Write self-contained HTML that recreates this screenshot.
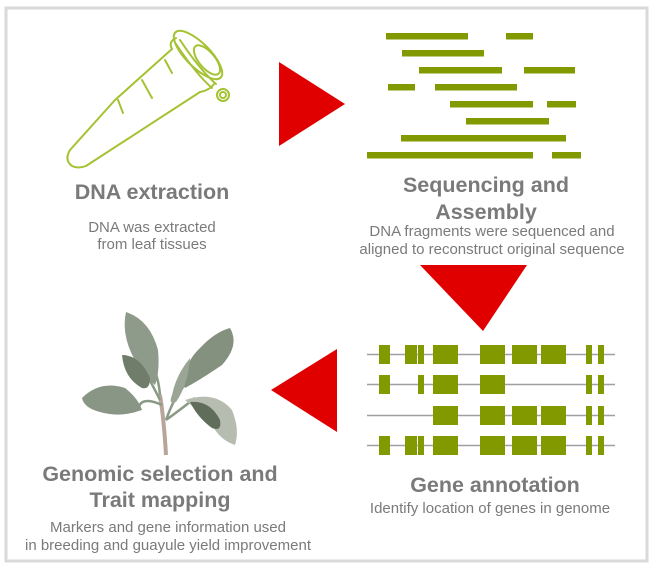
<!DOCTYPE html>
<html><head><meta charset="utf-8"><style>
html,body{margin:0;padding:0;background:#fff;}
svg{display:block;}
text{font-family:"Liberation Sans",Arial,sans-serif;fill:#7a7a7a;text-anchor:middle;}
.t{font-size:21.5px;font-weight:bold;}
.s{font-size:15px;}
</style></head><body>
<svg width="661" height="575" viewBox="0 0 661 575" xmlns="http://www.w3.org/2000/svg">
<rect x="6" y="8" width="641" height="553" fill="#fff" stroke="#d9d9d9" stroke-width="3"/>
<!-- tube -->
<g fill="none" stroke="#a4c232" stroke-width="2" stroke-linecap="round" stroke-linejoin="round">
<path d="M172,49 L115,100 L70,150 Q64,160 72,166 Q78,169 86,166 L200,92"/>
<path d="M172,49 Q168,42 176,38 M200,92 Q210,90 214,84"/>
<ellipse cx="198" cy="55" rx="32" ry="12" transform="rotate(45 198 55)"/>
<ellipse cx="207" cy="60" rx="18" ry="8" transform="rotate(50 207 60)"/>
<path d="M176,44 Q196,74 212,88 M180,40 Q200,70 216,84"/>
<ellipse cx="223" cy="95" rx="6" ry="6"/>
<ellipse cx="223" cy="95" rx="3" ry="3"/>
<path d="M165,60 L172,73 M142,80 L152,98 M118,100 L123,113"/>
</g>
<!-- sequencing bars -->
<g fill="#829a00">
<rect x="386" y="33" width="82" height="6.5"/><rect x="506" y="33" width="27" height="6.5"/>
<rect x="402" y="50" width="82" height="6.5"/>
<rect x="419" y="67" width="83" height="6.5"/><rect x="524" y="67" width="51" height="6.5"/>
<rect x="388" y="84" width="27" height="6.5"/><rect x="435" y="84" width="82" height="6.5"/>
<rect x="450" y="101" width="83" height="6.5"/><rect x="547" y="101" width="29" height="6.5"/>
<rect x="466" y="118" width="83" height="6.5"/>
<rect x="401" y="135" width="165" height="6.5"/>
<rect x="367" y="152" width="166" height="6.5"/><rect x="552" y="152" width="29" height="6.5"/>
</g>
<!-- arrows -->
<polygon points="279,62 345,104 279,146" fill="#e00000"/>
<polygon points="420,265 527,265 483,331" fill="#e00000"/>
<polygon points="271,390 337,349 337,432" fill="#e00000"/>
<!-- gene annotation -->
<g stroke="#a0a0a0" stroke-width="1.5">
<line x1="367" y1="354.5" x2="615" y2="354.5"/><line x1="367" y1="384.5" x2="615" y2="384.5"/>
<line x1="367" y1="415.5" x2="615" y2="415.5"/><line x1="367" y1="445.5" x2="615" y2="445.5"/>
</g>
<g fill="#829a00">
<g id="r1">
<rect x="379" y="345" width="11" height="19"/><rect x="405" y="345" width="12" height="19"/><rect x="418" y="345" width="6" height="19"/>
<rect x="433" y="345" width="25" height="19"/><rect x="480" y="345" width="25" height="19"/><rect x="512" y="345" width="25" height="19"/>
<rect x="541" y="345" width="25" height="19"/><rect x="586" y="345" width="6" height="19"/><rect x="598" y="345" width="6" height="19"/>
</g>
<rect x="379" y="375" width="11" height="19"/><rect x="418" y="375" width="6" height="19"/><rect x="433" y="375" width="25" height="19"/>
<rect x="480" y="375" width="25" height="19"/><rect x="586" y="375" width="6" height="19"/><rect x="598" y="375" width="6" height="19"/>
<rect x="433" y="406" width="25" height="19"/><rect x="480" y="406" width="25" height="19"/><rect x="512" y="406" width="25" height="19"/>
<rect x="541" y="406" width="25" height="19"/><rect x="586" y="406" width="6" height="19"/><rect x="598" y="406" width="6" height="19"/>
<use href="#r1" y="91"/>
</g>
<!-- plant -->
<g>
<path d="M166,455 Q164,420 160,395" stroke="#b9a59a" stroke-width="4" fill="none"/>
<path d="M160,400 Q150,380 140,362 M162,405 Q140,395 138,410 M166,420 Q175,395 185,385 M166,420 Q180,410 195,398 M160,395 Q158,370 145,350" stroke="#8a9a85" stroke-width="2.5" fill="none"/>
<path d="M126,312 Q150,320 158,350 Q160,372 155,385 Q138,370 130,350 Q122,330 126,312Z" fill="#8e9a8a"/>
<path d="M122,355 Q140,355 150,378 Q150,390 142,388 Q124,378 122,355Z" fill="#6f7d6a"/>
<path d="M82,398 Q100,380 125,388 Q138,398 142,410 Q120,418 100,412 Q84,408 82,398Z" fill="#8a9685"/>
<path d="M230,328 Q240,345 222,365 Q200,380 185,388 Q182,365 200,348 Q215,332 230,328Z" fill="#84917f"/>
<path d="M190,358 Q176,375 172,395 Q168,405 176,402 Q188,385 190,358Z" fill="#9aa595"/>
<path d="M185,400 Q215,390 232,410 Q240,430 235,445 Q220,440 212,425 Q200,412 185,400Z" fill="#b7bcb0"/>
<path d="M190,402 Q210,400 220,420 Q222,432 212,428 Q198,418 190,402Z" fill="#5f6d5a"/>
</g>
<!-- text -->
<text class="t" x="152" y="199">DNA extraction</text>
<text class="s" x="152" y="232">DNA was extracted</text>
<text class="s" x="152" y="249">from leaf tissues</text>
<text class="t" x="486" y="192">Sequencing and</text>
<text class="t" x="486" y="219">Assembly</text>
<text class="s" x="492" y="236">DNA fragments were sequenced and</text>
<text class="s" x="492" y="254">aligned to reconstruct original sequence</text>
<text class="t" x="495" y="492">Gene annotation</text>
<text class="s" x="490" y="513">Identify location of genes in genome</text>
<text class="t" x="160" y="481">Genomic selection and</text>
<text class="t" x="160" y="507">Trait mapping</text>
<text class="s" x="168" y="532">Markers and gene information used</text>
<text class="s" x="168" y="550">in breeding and guayule yield improvement</text>
</svg>
</body></html>
